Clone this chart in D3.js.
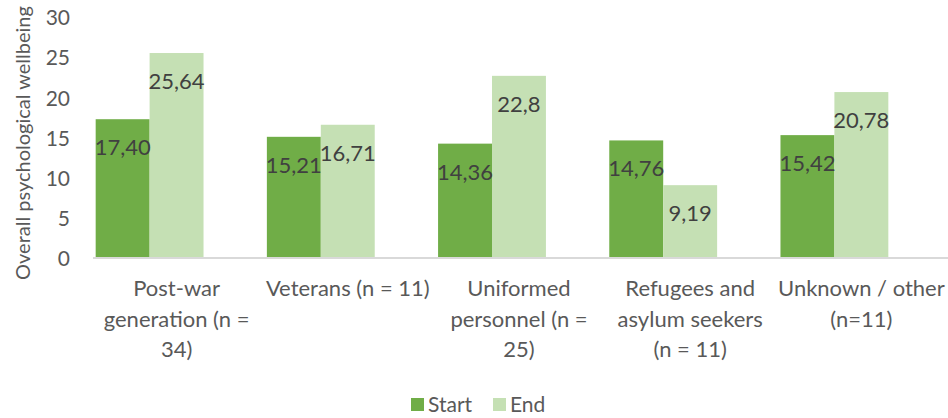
<!DOCTYPE html>
<html>
<head>
<meta charset="utf-8">
<script src="https://cdn.jsdelivr.net/npm/d3@7"></script>
<style>
    body { margin: 0; background: #fff; }
    svg text { font-family: Lato, "Liberation Sans", sans-serif; }
</style>
</head>
<body>
<svg id="chart"></svg>
<script>
const categories = ['Post-war', 'Veterans', 'Uniformed', 'Refugees', 'Unknown'];
const tick_labels = [
    ['Post-war', 'generation (n =', '34)'],
    ['Veterans (n = 11)'],
    ['Uniformed', 'personnel (n =', '25)'],
    ['Refugees and', 'asylum seekers', '(n = 11)'],
    ['Unknown / other', '(n=11)']
];
const series = ['Start', 'End'];
const start_values = [17.40, 15.21, 14.36, 14.76, 15.42];
const end_values = [25.64, 16.71, 22.8, 9.19, 20.78];
const label_text = {
    Start: ['17,40', '15,21', '14,36', '14,76', '15,42'],
    End: ['25,64', '16,71', '22,8', '9,19', '20,78']
};
const y_ticks = [0, 5, 10, 15, 20, 25, 30];

class GroupedBarChart {

    constructor(config) {
        this.config = {
            parent: config.parent,
            width: config.width || 948,
            height: config.height || 418,
            colors: config.colors
        };
        this.init();
    }

    init() {
        let self = this;

        self.svg = d3.select(self.config.parent)
            .attr('width', self.config.width)
            .attr('height', self.config.height);

        self.rows = categories.map((c, i) => ({
            key: c,
            Start: start_values[i],
            End: end_values[i],
            idx: i
        }));

        // bars sit a little left of their category labels in the source picture
        self.xscale = d3.scaleBand()
            .domain(categories)
            .range([64, 920])
            .paddingInner(0.37)
            .paddingOuter(0.185);
        self.label_shift = 27;

        self.subscale = d3.scaleBand()
            .domain(series)
            .range([0, self.xscale.bandwidth()]);

        self.yscale = d3.scaleLinear()
            .domain([0, 30])
            .range([259, 18]);

        self.render();
    }

    render() {
        let self = this;
        const y0 = self.yscale(0);

        // y axis tick labels (no line)
        const yaxis = d3.axisLeft(self.yscale)
            .tickValues(y_ticks)
            .tickSize(0)
            .tickPadding(0);
        const yg = self.svg.append('g')
            .attr('transform', 'translate(70, 0)')
            .call(yaxis);
        yg.select('.domain').remove();
        yg.selectAll('text')
            .attr('fill', '#595959')
            .style('font-size', '21px');

        // bars
        const groups = self.svg.selectAll('.grp')
            .data(self.rows)
            .join('g')
            .attr('class', 'grp')
            .attr('transform', d => `translate(${self.xscale(d.key)}, 0)`);

        groups.selectAll('rect')
            .data(d => series.map(s => ({ s: s, v: d[s], idx: d.idx })))
            .join('rect')
            .attr('x', d => self.subscale(d.s))
            .attr('y', d => self.yscale(d.v))
            .attr('width', self.subscale.bandwidth())
            .attr('height', d => y0 - self.yscale(d.v))
            .attr('fill', d => self.config.colors[d.s]);

        groups.selectAll('.val')
            .data(d => series.map(s => ({ s: s, v: d[s], idx: d.idx })))
            .join('text')
            .attr('class', 'val')
            .attr('x', d => self.subscale(d.s) + self.subscale.bandwidth() / 2)
            .attr('y', d => self.yscale(d.v) + 36)
            .attr('text-anchor', 'middle')
            .attr('fill', '#404040')
            .style('font-size', '22px')
            .text(d => label_text[d.s][d.idx]);

        // category axis line
        self.svg.append('line')
            .attr('x1', 93)
            .attr('x2', self.config.width)
            .attr('y1', 258)
            .attr('y2', 258)
            .attr('stroke', '#d9d9d9')
            .attr('stroke-width', 2);

        // category labels
        const cl = self.svg.selectAll('.cat')
            .data(self.rows)
            .join('text')
            .attr('class', 'cat')
            .attr('text-anchor', 'middle')
            .attr('fill', '#595959')
            .style('font-size', '22px');
        cl.selectAll('tspan')
            .data(d => tick_labels[d.idx].map(t => ({ t: t, key: d.key })))
            .join('tspan')
            .attr('x', d => self.xscale(d.key) + self.xscale.bandwidth() / 2 + self.label_shift)
            .attr('y', (d, i) => 296 + i * 30.5)
            .text(d => d.t);

        // y title
        self.svg.append('text')
            .attr('transform', 'translate(30, 143) rotate(-90)')
            .attr('text-anchor', 'middle')
            .attr('fill', '#595959')
            .style('font-size', '20px')
            .text('Overall psychological  wellbeing');

        // legend
        const legend = self.svg.append('g')
            .attr('transform', 'translate(411, 398)');
        const items = legend.selectAll('g')
            .data(series)
            .join('g')
            .attr('transform', (d, i) => `translate(${i * 82}, 0)`);
        items.append('rect')
            .attr('width', 13)
            .attr('height', 13)
            .attr('fill', d => self.config.colors[d]);
        items.append('text')
            .attr('x', 17)
            .attr('y', 14)
            .attr('fill', '#595959')
            .style('font-size', '21px')
            .text(d => d);
    }
}

new GroupedBarChart({
    parent: '#chart',
    colors: { Start: '#70ad47', End: '#c5e0b4' }
});
</script>
</body>
</html>
